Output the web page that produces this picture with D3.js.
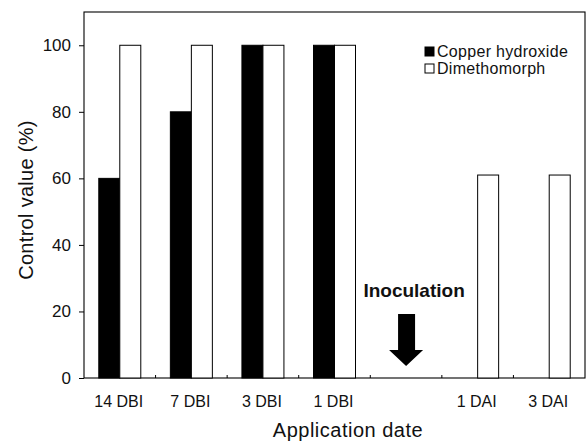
<!DOCTYPE html>
<html>
<head>
<meta charset="utf-8">
<script src="https://cdn.jsdelivr.net/npm/d3@7"></script>
<style>
  html, body { margin: 0; padding: 0; background: #fff; }
  svg { display: block; }
  text { font-family: "Liberation Sans", Arial, sans-serif; fill: #111; }
</style>
</head>
<body>
<svg id="chart" width="588" height="446"></svg>
<script>
const categories = ["14 DBI", "7 DBI", "3 DBI", "1 DBI", "inoc", "1 DAI", "3 DAI"];
const tickLabels = ["14 DBI", "7 DBI", "3 DBI", "1 DBI", "", "1 DAI", "3 DAI"];
const copperHydroxide = [60, 80, 100, 100, null, null, null];
const dimethomorph = [100, 100, 100, 100, null, 61, 61];
const seriesNames = ["Copper hydroxide", "Dimethomorph"];
const yTicks = [0, 20, 40, 60, 80, 100];

const svg = d3.select("#chart");
const mLeft = 84, mRight = 585, mTop = 12, mBottom = 378;

const x = d3.scaleBand().domain(categories).range([mLeft, mRight]).padding(0);
const y = d3.scaleLinear().domain([0, 110]).range([mBottom, mTop]);
const bw = x.bandwidth();
const x1 = d3.scaleBand().domain(seriesNames).range([bw / 2 - 21, bw / 2 + 21]).padding(0);

// frame
svg.append("rect")
  .attr("x", mLeft).attr("y", mTop)
  .attr("width", mRight - mLeft).attr("height", mBottom - mTop)
  .attr("fill", "none").attr("stroke", "#000").attr("stroke-width", 1.1);

// bars
const rows = categories.map((c, i) => ({ cat: c, vals: [copperHydroxide[i], dimethomorph[i]] }));
const g = svg.append("g");
rows.forEach(r => {
  r.vals.forEach((v, k) => {
    if (v === null) return;
    g.append("rect")
      .attr("x", x(r.cat) + x1(seriesNames[k]))
      .attr("y", y(v))
      .attr("width", x1.bandwidth())
      .attr("height", y(0) - y(v))
      .attr("fill", k === 0 ? "#000" : "#fff")
      .attr("stroke", "#000").attr("stroke-width", 1);
  });
});

// y axis
const yAxis = d3.axisLeft(y).tickValues(yTicks).tickSize(5).tickPadding(8);
const ya = svg.append("g").attr("transform", `translate(${mLeft},0)`).call(yAxis);
ya.select(".domain").remove();
ya.selectAll("text").style("font-size", "17px").style("font-family", '"Liberation Sans", Arial, sans-serif').attr("fill", "#111");
ya.selectAll("line").attr("stroke", "#000");

// x axis: labels at band centers, small inward ticks at band boundaries
const xa = svg.append("g").attr("transform", `translate(0,${mBottom})`);
xa.selectAll("line").data(categories.slice(1)).enter().append("line")
  .attr("x1", d => x(d)).attr("x2", d => x(d))
  .attr("y1", 0).attr("y2", -3).attr("stroke", "#000");
xa.selectAll("text").data(categories).enter().append("text")
  .attr("x", d => x(d) + bw / 2 - 1)
  .attr("y", 29)
  .attr("text-anchor", "middle")
  .style("font-size", "16px")
  .text((d, i) => tickLabels[i]);

// axis titles
svg.append("text")
  .attr("x", 348).attr("y", 437)
  .attr("text-anchor", "middle")
  .style("font-size", "20px")
  .style("letter-spacing", "0.5px")
  .text("Application date");
svg.append("text")
  .attr("transform", `translate(33,200) rotate(-90)`)
  .attr("text-anchor", "middle")
  .style("font-size", "20px")
  .style("letter-spacing", "0.3px")
  .text("Control value (%)");

// legend
const lg = svg.append("g");
const legendY = [52, 69];
seriesNames.forEach((n, k) => {
  lg.append("rect")
    .attr("x", 425).attr("y", legendY[k] - 5)
    .attr("width", 9).attr("height", 9)
    .attr("fill", k === 0 ? "#000" : "#fff")
    .attr("stroke", "#000").attr("stroke-width", 1);
  lg.append("text")
    .attr("x", 437).attr("y", legendY[k] + 5)
    .style("font-size", "16px")
    .style("letter-spacing", "0.3px")
    .text(n);
});

// inoculation annotation
const cx = x("inoc") + bw / 2;
svg.append("text")
  .attr("x", cx + 8).attr("y", 297)
  .attr("text-anchor", "middle")
  .style("font-size", "19px")
  .style("font-weight", "bold")
  .text("Inoculation");
const arrow = d3.path();
arrow.moveTo(cx - 8, 314);
arrow.lineTo(cx + 9, 314);
arrow.lineTo(cx + 9, 350);
arrow.lineTo(cx + 17, 350);
arrow.lineTo(cx, 366);
arrow.lineTo(cx - 17, 350);
arrow.lineTo(cx - 8, 350);
arrow.closePath();
svg.append("path").attr("d", arrow.toString()).attr("fill", "#000");
</script>
</body>
</html>
